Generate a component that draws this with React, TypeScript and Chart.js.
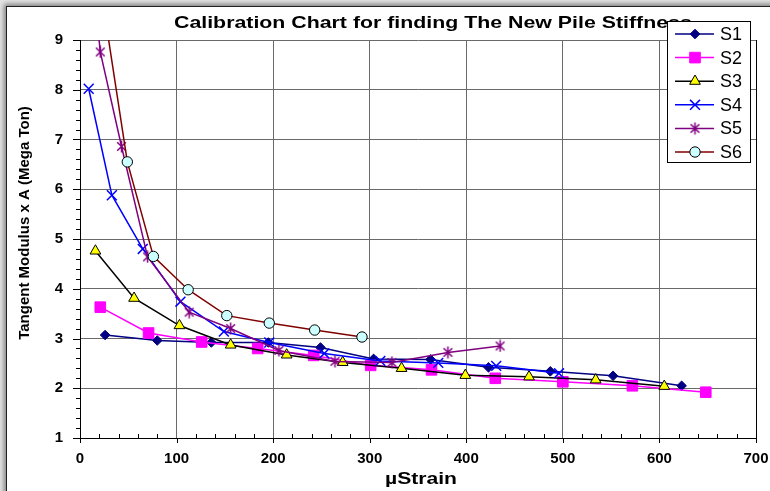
import React, { useEffect, useRef } from 'react';
import { Chart, registerables } from 'chart.js';
import { drawPoint } from 'chart.js/helpers';

Chart.register(...registerables);

const FONT = '"Liberation Sans", Arial, sans-serif';

const chartTitle = 'Calibration Chart for finding The New Pile Stiffness';
const xTitle = '\u00B5Strain';
const yTitle = 'Tangent Modulus x A (Mega Ton)';

const seriesNames = ['S1', 'S2', 'S3', 'S4', 'S5', 'S6'];

const s1X = [26, 80, 136, 195, 249, 304, 363, 423, 487, 552, 623];
const s1Y = [3.07, 2.96, 2.92, 2.92, 2.82, 2.59, 2.58, 2.42, 2.34, 2.25, 2.05];

const s2X = [21, 71, 126, 184, 242, 301, 364, 430, 500, 572, 648];
const s2Y = [3.63, 3.11, 2.93, 2.8, 2.66, 2.46, 2.37, 2.2, 2.13, 2.05, 1.92];

const s3X = [16, 56, 103, 156, 214, 272, 333, 399, 465, 534, 605];
const s3Y = [4.76, 3.81, 3.26, 2.87, 2.67, 2.52, 2.4, 2.26, 2.23, 2.17, 2.04];

const s4X = [9, 33, 65, 104, 149, 196, 253, 311, 371, 431, 496];
const s4Y = [8.02, 5.88, 4.8, 3.74, 3.14, 2.92, 2.7, 2.55, 2.51, 2.45, 2.3];

const s5X = [14, 21, 43, 70, 113, 156, 206, 264, 323, 381, 435];
const s5Y = [10.1, 8.76, 6.86, 4.64, 3.53, 3.2, 2.76, 2.54, 2.52, 2.72, 2.85];

const s6X = [19, 49, 76, 112, 152, 196, 243, 292];
const s6Y = [10.35, 6.55, 4.65, 3.98, 3.46, 3.31, 3.17, 3.03];

const xTickValues = [0, 100, 200, 300, 400, 500, 600, 700];
const yTickValues = [1, 2, 3, 4, 5, 6, 7, 8, 9];

function makeStar(color: string, size: number) {
  const c = document.createElement('canvas');
  c.width = size;
  c.height = size;
  const g = c.getContext('2d')!;
  g.strokeStyle = color;
  g.lineWidth = 1.5;
  const m = size / 2;
  const r = size / 2 - 0.5;
  const d = r * 0.72;
  g.beginPath();
  g.moveTo(m, m - r);
  g.lineTo(m, m + r);
  g.moveTo(m - d, m - d);
  g.lineTo(m + d, m + d);
  g.moveTo(m + d, m - d);
  g.lineTo(m - d, m + d);
  g.stroke();
  return c;
}

function toPoints(xs: number[], ys: number[]) {
  return xs.map((x, i) => ({ x, y: ys[i] }));
}

export default function App() {
  const ref = useRef<HTMLCanvasElement | null>(null);

  useEffect(() => {
    document.body.style.margin = '0';
    const canvas = ref.current!;
    const star = makeStar('#800080', 13);

    const styles = [
      { line: '#000080', style: 'rectRot', radius: 4.8, bg: '#000080', border: '#000080', bw: 1 },
      { line: '#FF00FF', style: 'rect', radius: 7.5, bg: '#FF00FF', border: '#FF00FF', bw: 1 },
      { line: '#000000', style: 'triangle', radius: 6.2, bg: '#FFFF00', border: '#000000', bw: 1 },
      { line: '#0000FF', style: 'crossRot', radius: 7, bg: '#0000FF', border: '#0000FF', bw: 1.5 },
      { line: '#800080', style: star as any, radius: 6, bg: '#800080', border: '#800080', bw: 1.5 },
      { line: '#800000', style: 'circle', radius: 5.2, bg: '#CCFFFF', border: '#000000', bw: 1 },
    ];
    const allX = [s1X, s2X, s3X, s4X, s5X, s6X];
    const allY = [s1Y, s2Y, s3Y, s4Y, s5Y, s6Y];

    const datasets = seriesNames.map((name, i) => ({
      label: name,
      data: toPoints(allX[i], allY[i]),
      borderColor: styles[i].line,
      borderWidth: 1.5,
      pointStyle: styles[i].style,
      pointRadius: styles[i].radius,
      pointBackgroundColor: styles[i].bg,
      pointBorderColor: styles[i].border,
      pointBorderWidth: styles[i].bw,
      tension: 0,
      fill: false,
      order: 6 - i,
    }));

    const decor = {
      id: 'decor',
      beforeDatasetsDraw(chart: any) {
        const { ctx, chartArea, scales } = chart;
        const { top, bottom } = chartArea;
        ctx.save();
        ctx.strokeStyle = '#000';
        ctx.lineWidth = 1;
        ctx.beginPath();
        const xr = Math.round(scales.x.getPixelForValue(700)) + 0.5;
        ctx.moveTo(xr, top);
        ctx.lineTo(xr, bottom);
        ctx.stroke();
        ctx.restore();
      },
      afterDraw(chart: any) {
        const { ctx, chartArea, scales } = chart;
        const { left, bottom } = chartArea;
        ctx.save();
        ctx.strokeStyle = '#000';
        ctx.lineWidth = 1;
        ctx.beginPath();
        for (let v = 1; v <= 9.001; v += 0.2) {
          const y = Math.round(scales.y.getPixelForValue(v)) + 0.5;
          const isMajor = Math.abs(v - Math.round(v)) < 1e-6;
          ctx.moveTo(left - (isMajor ? 7 : 4), y);
          ctx.lineTo(left, y);
        }
        for (let v = 0; v <= 700; v += 20) {
          const x = Math.round(scales.x.getPixelForValue(v)) + 0.5;
          if (v % 100 === 0) {
            ctx.moveTo(x, bottom);
            ctx.lineTo(x, bottom + 5);
          } else {
            ctx.moveTo(x, bottom);
            ctx.lineTo(x, bottom - 4);
          }
        }
        ctx.stroke();

        ctx.fillStyle = '#000';
        ctx.font = `bold 17px ${FONT}`;
        const w = ctx.measureText('Calibration Chart f').width;
        const sx = 186 / w;
        ctx.save();
        ctx.translate(167, 21);
        ctx.scale(sx, 1);
        ctx.textAlign = 'left';
        ctx.textBaseline = 'alphabetic';
        ctx.fillText(chartTitle, 0, 0);
        ctx.restore();

        ctx.font = `bold 16px ${FONT}`;
        const wx = ctx.measureText(xTitle).width;
        const sxx = 72 / wx;
        ctx.save();
        ctx.translate(414, 477);
        ctx.scale(sxx, 1);
        ctx.textAlign = 'center';
        ctx.textBaseline = 'alphabetic';
        ctx.fillText(xTitle, 0, 0);
        ctx.restore();

        ctx.font = `bold 15px ${FONT}`;
        ctx.save();
        ctx.translate(22, 216);
        ctx.rotate(-Math.PI / 2);
        ctx.textAlign = 'center';
        ctx.textBaseline = 'alphabetic';
        ctx.fillText(yTitle, 0, 0);
        ctx.restore();

        const lx0 = 660.5, ly0 = 14.5, lx1 = 743.5, ly1 = 155.5;
        ctx.fillStyle = '#fff';
        ctx.fillRect(lx0, ly0, lx1 - lx0, ly1 - ly0);
        ctx.strokeStyle = '#000';
        ctx.lineWidth = 1;
        ctx.strokeRect(lx0, ly0, lx1 - lx0, ly1 - ly0);
        ctx.font = `18px ${FONT}`;
        ctx.textAlign = 'left';
        ctx.textBaseline = 'middle';
        seriesNames.forEach((name, i) => {
          const y = 27 + 23.6 * i;
          const s = styles[i];
          ctx.strokeStyle = s.line;
          ctx.lineWidth = 1.5;
          ctx.beginPath();
          ctx.moveTo(668, y);
          ctx.lineTo(707, y);
          ctx.stroke();
          ctx.fillStyle = s.bg;
          ctx.strokeStyle = s.border;
          ctx.lineWidth = s.bw;
          drawPoint(ctx, { pointStyle: s.style, radius: s.radius, borderWidth: s.bw, rotation: 0 } as any, 688, y);
          ctx.fillStyle = '#000';
          ctx.fillText(name, 713, y + 1);
        });
        ctx.restore();
      },
    };

    const tickFont = { family: FONT, size: 15, weight: 'bold' as const };

    const chart = new Chart(canvas, {
      type: 'line',
      data: { datasets: datasets as any },
      options: {
        responsive: false,
        animation: false,
        devicePixelRatio: 1,
        layout: { padding: { left: 0, top: 33, right: 14, bottom: 0 } },
        plugins: {
          legend: { display: false },
          title: { display: false },
          tooltip: { enabled: false },
        },
        scales: {
          x: {
            type: 'linear',
            min: 0,
            max: 700,
            afterBuildTicks: (s: any) => {
              s.ticks = xTickValues.map((v) => ({ value: v }));
            },
            ticks: { color: '#000', font: tickFont, padding: 12, maxRotation: 0, autoSkip: false },
            grid: { color: '#6a6a6a', lineWidth: 1, drawTicks: false },
            border: { color: '#000', width: 1 },
            afterFit: (s: any) => {
              s.height = 53;
              s.paddingRight = 0;
              s.paddingLeft = 0;
            },
          },
          y: {
            type: 'linear',
            min: 1,
            max: 9,
            afterBuildTicks: (s: any) => {
              s.ticks = yTickValues.map((v) => ({ value: v }));
            },
            ticks: { color: '#000', font: tickFont, padding: 17, autoSkip: false },
            grid: { color: '#6a6a6a', lineWidth: 1, drawTicks: false },
            border: { color: '#000', width: 1 },
            afterFit: (s: any) => {
              s.width = 73;
              s.paddingTop = 0;
              s.paddingBottom = 0;
            },
          },
        },
      },
      plugins: [decor],
    });
    return () => chart.destroy();
  }, []);

  return (
    <div style={{ position: 'relative', width: 770, height: 491, overflow: 'hidden', background: '#e4e4e4' }}>
      <div
        style={{
          position: 'absolute',
          left: 6,
          top: 6,
          width: 780,
          height: 500,
          background: '#fff',
          borderLeft: '1px solid #202020',
          borderTop: '1px solid #202020',
          boxShadow: '-2px -2px 5px rgba(0,0,0,0.45)',
        }}
      >
        <canvas ref={ref} width={763} height={484} style={{ display: 'block' }} />
      </div>
    </div>
  );
}
